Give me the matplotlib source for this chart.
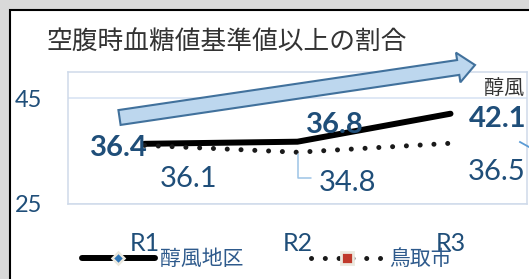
import matplotlib
matplotlib.use("Agg")
import matplotlib.pyplot as plt
from matplotlib.lines import Line2D
from matplotlib.patches import Rectangle, FancyArrow
from matplotlib.transforms import IdentityTransform

# ------------------------
# data
# ------------------------
categories = ["R1", "R2", "R3"]
jumpu = [36.4, 36.8, 42.1]        # 醇風地区
tottori = [36.1, 34.8, 36.5]      # 鳥取市
series_names = ["醇風地区", "鳥取市"]
title = "空腹時血糖値基準値以上の割合"

# label offsets (pixels) relative to each point
jumpu_offsets = [(-25.5, -12), (37, 9), (47.5, -13)]
tottori_offsets = [(44, -41.5), (50, -38.5), (46, -36.5)]

W, H = 529, 279
label_color = "#1f4e79"
num_font = "Lato"
jp_font = ["Noto Sans CJK JP", "DejaVu Sans"]
dot_style = (0, (0.01, 2.75))

fig = plt.figure(figsize=(W / 100, H / 100), dpi=100)
fig.patch.set_facecolor("#d9d9d9")

# white chart area with black frame (cut off at right/bottom)
frame = Rectangle((10, -20), 700, H - 10 + 20, transform=IdentityTransform(),
                  facecolor="white", edgecolor="black", linewidth=1.5, zorder=0)
fig.add_artist(frame)

# plot area in pixel units -> figure fraction
left, right, top, bottom = 68, 527, 72, 204
ax = fig.add_axes([left / W, 1 - bottom / H, (right - left) / W, (bottom - top) / H])
ax.set_facecolor("none")

x = range(len(categories))
ax.plot(x, jumpu, color="black", lw=4.3, solid_capstyle="round", zorder=3)
ax.plot(x, tottori, color="#1a1a1a", lw=3.6, linestyle=dot_style,
        dash_capstyle="round", zorder=3)

ax.set_xlim(-0.5, 2.5)
ax.set_ylim(25, 50)
ax.set_yticks([25, 45])
ax.set_xticks(list(x))
ax.set_xticklabels(categories)
ax.tick_params(axis="y", length=0, pad=18.5, labelsize=17, labelcolor=label_color)
ax.tick_params(axis="x", length=0, pad=20, labelsize=18, labelcolor=label_color)
for lab in ax.get_xticklabels() + ax.get_yticklabels():
    lab.set_fontfamily(num_font)

ax.yaxis.grid(True, color="#d6e2f2", lw=1.1)
ax.set_axisbelow(True)
for s in ax.spines.values():
    s.set_color("#cfdaea")
    s.set_linewidth(1.1)

# data labels
for i, v in enumerate(jumpu):
    ax.annotate(f"{v}", (i, v), xytext=jumpu_offsets[i], textcoords="offset pixels",
                ha="center", va="baseline", fontsize=21, fontweight="bold",
                color=label_color, fontfamily=num_font, zorder=4,
                annotation_clip=False)
for i, v in enumerate(tottori):
    ax.annotate(f"{v}", (i, v), xytext=tottori_offsets[i], textcoords="offset pixels",
                ha="center", va="baseline", fontsize=21,
                color=label_color, fontfamily=num_font, zorder=4,
                annotation_clip=False)

# leader line for 34.8
ax.annotate("", (1, tottori[1]), xytext=(13, -26), textcoords="offset pixels",
            arrowprops=dict(arrowstyle="-", color="#9dc3e6", lw=1.1,
                            shrinkA=0, shrinkB=1.5,
                            connectionstyle="angle,angleA=0,angleB=90,rad=0"))
# leader line stub at the right edge (for 36.5)
fig.add_artist(Line2D([520, 529], [H - 142, H - 147], transform=IdentityTransform(),
                      color="#5b9bd5", lw=1.3))

# trend arrow
arrow = FancyArrow(119.5, H - 117.5, 355.5, 52.5, width=15, head_width=30,
                   head_length=17, length_includes_head=True,
                   transform=IdentityTransform(), facecolor="#bdd7ee",
                   edgecolor="#41719c", linewidth=1.5, zorder=5)
fig.add_artist(arrow)

# title and the cut-off text box at the right
fig.text(47 / W, 1 - 43 / H, title, fontsize=18.5, color="#333333",
         family=jp_font, ha="left", va="center")
fig.text(484 / W, 1 - 88 / H, "醇風", fontsize=14.5, color="#333333",
         family=jp_font, ha="left", va="center")

# legend
handles = [
    Line2D([], [], color="black", lw=4.3, solid_capstyle="round",
           marker="D", markersize=6.5, markerfacecolor="#2e75b6",
           markeredgecolor="#ece9df", markeredgewidth=1.8),
    Line2D([], [], color="#1a1a1a", lw=3.6, linestyle=dot_style,
           dash_capstyle="round", marker="s", markersize=8,
           markerfacecolor="#c0392b", markeredgecolor="#ece9df",
           markeredgewidth=2),
]
fig.legend(handles, series_names, ncol=2, loc="center left",
           bbox_to_anchor=(82 / W, 1 - 259 / H), frameon=False,
           handlelength=3.5, handletextpad=0.24, columnspacing=3.24,
           borderpad=0, borderaxespad=0,
           prop={"family": jp_font, "size": 15}, labelcolor="#2e5a8c")

fig.savefig("out.png", dpi=100)
